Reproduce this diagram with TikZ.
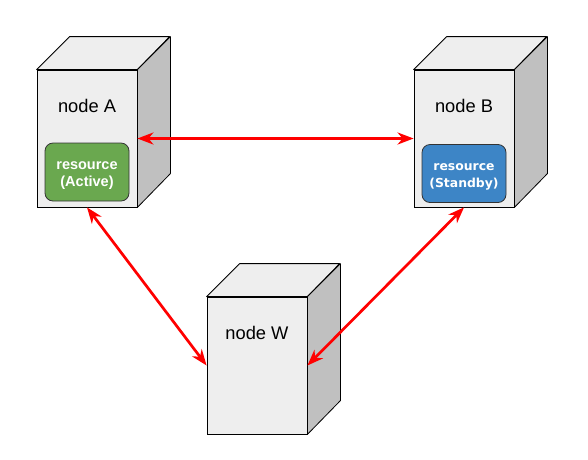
\documentclass[tikz,border=0pt]{standalone}
\usepackage{fontspec}
\setmainfont{Liberation Sans}
\newfontfamily\dvsans{DejaVu Sans}
\usepackage{xcolor}
\usetikzlibrary{arrows.meta,positioning}
\definecolor{faceFront}{RGB}{238,238,238}
\definecolor{faceSide}{RGB}{192,192,192}
\definecolor{resActive}{RGB}{106,168,79}
\definecolor{resStandby}{RGB}{61,133,198}

\begin{document}
\begin{tikzpicture}[
  x=1pt, y=-1pt,
  front/.style={draw, line width=0.8pt, fill=faceFront, minimum width=100pt, minimum height=137pt, inner sep=0pt},
  face/.style={draw, line width=0.8pt, line join=round},
  title/.style={font=\fontsize{18.3}{22}\selectfont},
  res/.style={draw=black!80, line width=0.8pt, rounded corners=8pt, minimum width=84pt, minimum height=58pt, inner sep=0pt},
  restext/.style={align=center, text=white, inner sep=0pt},
  link/.style={{Stealth[length=16pt,width=12pt,inset=5pt]}-{Stealth[length=16pt,width=12pt,inset=5pt]}, red, line width=2.7pt}
]
\useasboundingbox (0,0) rectangle (588,459);
\node[front] (A) at (87,138.5) {};
\node[front] (B) at (464,138.5) {};
\node[front] (W) at (257,365.5) {};
\foreach \n in {A,B,W}{
  \draw[face,fill=faceFront] (\n.north west) -- ++(33,-33) -- ++(100,0) -- (\n.north east) -- cycle;
  \draw[face,fill=faceSide] (\n.north east) -- ++(33,-33) -- ++(0,137) -- (\n.south east) -- cycle;
}
\node[title] (Atitle) at (87,106) {node A};
\node[title] (Btitle) at (464,106) {node B};
\node[title] (Wtitle) at (257,333) {node W};
\node[res,fill=resActive] (Ares) at (87,172) {};
\node[res,fill=resStandby] (Bres) at (464,173.5) {};
\node[restext,font=\bfseries\fontsize{14.5}{17.7}\selectfont,yshift=-3.5pt] (Atext) at (Ares) {resource\\(Active)};
\node[restext,font=\dvsans\bfseries\fontsize{12.4}{17.7}\selectfont,yshift=-3.5pt] (Btext) at (Bres) {resource\\(Standby)};
\draw[link] (A.east) -- (B.west);
\draw[link] (A.south) -- (W.west);
\draw[link] (B.south) -- (W.east);
\end{tikzpicture}
\end{document}
